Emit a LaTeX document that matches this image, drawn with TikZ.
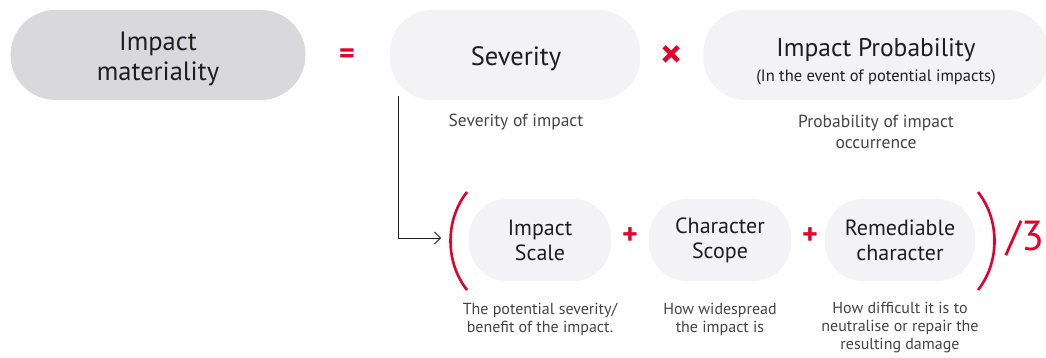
\documentclass[tikz,border=0pt]{standalone}
\usepackage{fontspec}
\setmainfont{PT Sans}
\usetikzlibrary{arrows.meta}
\definecolor{accent}{HTML}{E3002B}
\definecolor{pillgray}{HTML}{D8D8DD}
\definecolor{pilllight}{HTML}{F3F3F5}
\definecolor{txt}{HTML}{1E1E1E}
\definecolor{desc}{HTML}{444444}
\tikzset{
  mainpill/.style={fill=pillgray, rounded corners=45pt, minimum width=295pt, minimum height=90pt},
  lightpill/.style={fill=pilllight, rounded corners=42pt},
  smallpill/.style={fill=pilllight, rounded corners=38pt, minimum width=142pt, minimum height=82pt, align=center, text=txt, font=\fontsize{22}{25}\selectfont},
  pilltext/.style={align=center, text=txt},
  op/.style={text=accent, font=\bfseries\fontsize{30}{30}\selectfont},
  desctext/.style={text=desc, align=center, font=\fontsize{16}{18}\selectfont},
  paren/.style={draw=accent, line width=2.6pt},
  conn/.style={draw=txt, line width=0.8pt, -{Straight Barb[length=6pt,width=12pt,line width=0.8pt]}}
}
\begin{document}
\begin{tikzpicture}[x=1pt,y=-1pt]
\useasboundingbox[fill=white] (0,0) rectangle (1046,358);
% top row
\node[mainpill] (im) at (158,55) {};
\node[pilltext, font=\fontsize{26.5}{30}\selectfont] (imt) at (158,59) {Impact\\materiality};
\node[op] (eq) at (347,56) {=};
\node[lightpill, minimum width=250pt, minimum height=90pt] (sev) at (515,55) {};
\node[pilltext, font=\fontsize{26.5}{28}\selectfont] (sevt) at (516,59) {Severity};
\node[text=accent, font=\bfseries\fontsize{42}{42}\selectfont] (times) at (672,57) {×};
\node[lightpill, minimum width=345pt, minimum height=90pt] (prob) at (876,55) {};
\node[pilltext] (probt) at (876,62) {{\fontsize{25.5}{26}\selectfont Impact Probability}\\[7pt]{\fontsize{16.5}{16}\selectfont (In the event of potential impacts)}};
\node[desctext, font=\fontsize{17.5}{21}\selectfont] (sevd) at (516,122) {Severity of impact};
\node[desctext, font=\fontsize{17.5}{21}\selectfont] (probd) at (876,132) {Probability of impact\\occurrence};
% connector
\coordinate (cstart) at (398,96);
\coordinate (cbend) at (398,238);
\coordinate (cend) at (441,238);
\draw[conn] (cstart) -- (cbend) -- (cend);
% parentheses
\draw[paren] (467,192) .. controls (445,220) and (445,262) .. (467,290);
\draw[paren] (978,192) .. controls (1000,220) and (1000,262) .. (978,290);
\node[text=accent, font=\fontsize{42}{42}\selectfont] (div) at (1025,238) {/3};
% bottom row
\node[smallpill] (scale) at (540,240) {Impact\\Scale};
\node[op] (p1) at (630,236) {+};
\node[smallpill] (scope) at (720,240) {Character\\Scope};
\node[op] (p2) at (810,236) {+};
\node[smallpill, minimum width=150pt] (rem) at (900,240) {Remediable\\character};
\node[desctext] (scaled) at (540,319) {The potential severity/\\benefit of the impact.};
\node[desctext] (scoped) at (720,319) {How widespread\\the impact is};
\node[desctext] (remd) at (900,328) {How difficult it is to\\neutralise or repair the\\resulting damage};
\end{tikzpicture}
\end{document}
